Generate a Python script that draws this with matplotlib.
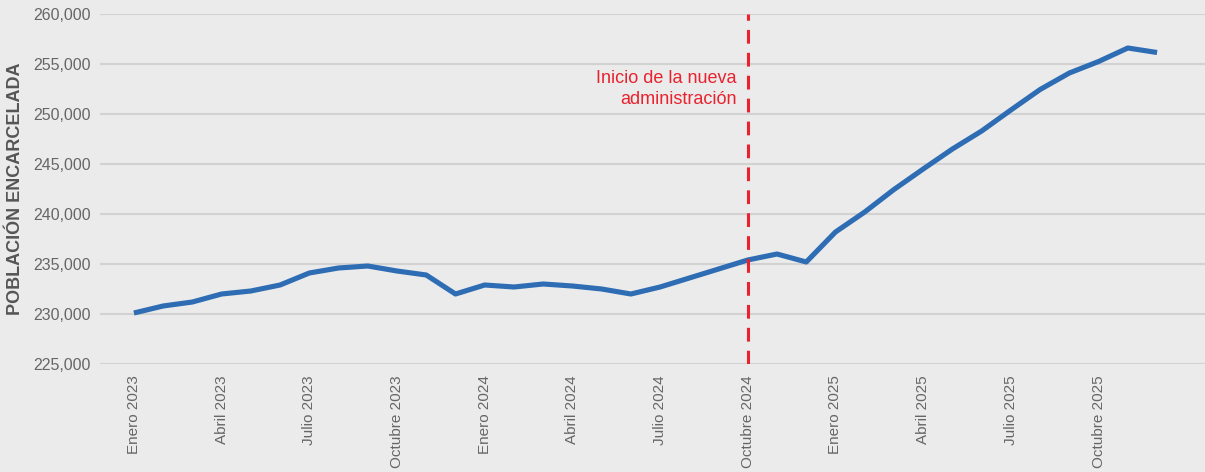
import numpy as np
import matplotlib
matplotlib.use('Agg')
import matplotlib.pyplot as plt
from matplotlib.ticker import FuncFormatter

plt.rcParams['font.family'] = ['Liberation Sans', 'DejaVu Sans']

# Monthly incarcerated population, Jan 2023 - Dec 2025
months = ['Enero', 'Febrero', 'Marzo', 'Abril', 'Mayo', 'Junio', 'Julio',
          'Agosto', 'Septiembre', 'Octubre', 'Noviembre', 'Diciembre']
years = [2023, 2024, 2025]
labels = [f'{m} {y}' for y in years for m in months]
population = [230100, 230800, 231200, 232000, 232300, 232900, 234100, 234600,
              234800, 234300, 233900, 232000,
              232900, 232700, 233000, 232800, 232500, 232000, 232700, 233600,
              234500, 235400, 236000, 235200,
              238200, 240200, 242450, 244500, 246500, 248300, 250400, 252450,
              254100, 255250, 256600, 256150]
start_admin = 'Octubre 2024'
annotation = 'Inicio de la nueva\nadministración'

bg = '#EBEBEB'
fig = plt.figure(figsize=(12.05, 4.72), dpi=100, facecolor=bg)
ax = fig.add_axes([100 / 1205, 1 - 364 / 472, 1 - 100 / 1205, 350 / 472])
ax.set_facecolor(bg)

x = np.arange(len(labels))
ax.plot(x, population, color='#2E6DB4', linewidth=3.7, solid_capstyle='butt', zorder=3)

# new administration marker
xa = labels.index(start_admin)
ax.axvline(xa, color='#E8222F', linewidth=2.2, linestyle=(0, (4.5, 3)), zorder=4)
ax.annotate(annotation, xy=(xa, 252500), xytext=(-8, 0), textcoords='offset points',
            ha='right', va='center', color='#E8222F', fontsize=13, linespacing=1.35)

ax.set_ylim(225000, 260000)
ax.set_yticks(np.arange(225000, 260001, 5000))
ax.yaxis.set_major_formatter(FuncFormatter(lambda v, p: f'{int(v):,}'))
ax.set_xlim(-1.16, 36.64)
ax.set_xticks(x[::3])
ax.set_xticklabels(labels[::3], rotation=90, va='top', ha='center')

ax.grid(True, axis='y', color='#D2D2D2', linewidth=1.5, zorder=0)
ax.set_axisbelow(True)
for s in ax.spines.values():
    s.set_visible(False)
ax.tick_params(axis='both', length=0, colors='#666666')
ax.tick_params(axis='x', labelsize=11, pad=8)
ax.tick_params(axis='y', labelsize=11.5, pad=6.5)

ax.set_ylabel('POBLACIÓN ENCARCELADA', fontsize=13, fontweight='bold', color='#555555')
ax.yaxis.set_label_coords(-76 / 1105, 0.5)

fig.savefig('out.png', dpi=100, facecolor=bg)
